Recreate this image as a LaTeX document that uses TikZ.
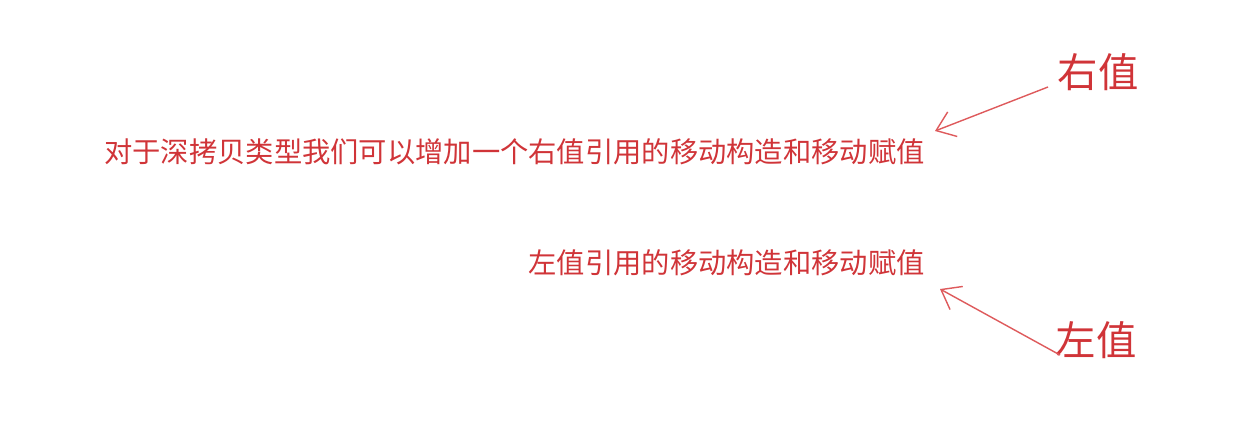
\documentclass[tikz,border=0pt]{standalone}
\usepackage{fontspec}
\usepackage{tikz}
\usetikzlibrary{arrows.meta}
\newfontfamily\cjk{Noto Sans CJK SC}
\definecolor{notered}{RGB}{208,52,56}
\definecolor{arrowred}{RGB}{222,90,92}

\begin{document}
\begin{tikzpicture}[x=0.02cm,y=-0.02cm]
			\tikzstyle{every node}=[font=\cjk, text=notered, inner sep=0pt]
			\tikzstyle{note}=[font=\cjk\fontsize{16.1}{18}\selectfont, anchor=east]
			\tikzstyle{tag}=[font=\cjk\fontsize{23}{26}\selectfont]
			\tikzstyle{hint}=[draw=arrowred, line width=0.8pt, -{Straight Barb[length=10pt,width=15pt]}]
			\useasboundingbox (0,0) rectangle (1259,440);
			
			% the two lines of text
			\node[note] (rtext) at (925,152) {对于深拷贝类型我们可以增加一个右值引用的移动构造和移动赋值};
			\node[note] (ltext) at (925,263) {左值引用的移动构造和移动赋值};
			
			% the labels
			\node[tag] (rv) at (1098,72) {右值};
			\node[tag] (lv) at (1096,340) {左值};
			
			\coordinate (rfrom) at (1048,87);
			\coordinate (rto) at (935,131);
			\coordinate (lfrom) at (1060,355);
			\coordinate (lto) at (940,289);
			
			\draw[hint] (rfrom) -- (rto);
			\draw[hint] (lfrom) -- (lto);
			
\end{tikzpicture}
\end{document}
